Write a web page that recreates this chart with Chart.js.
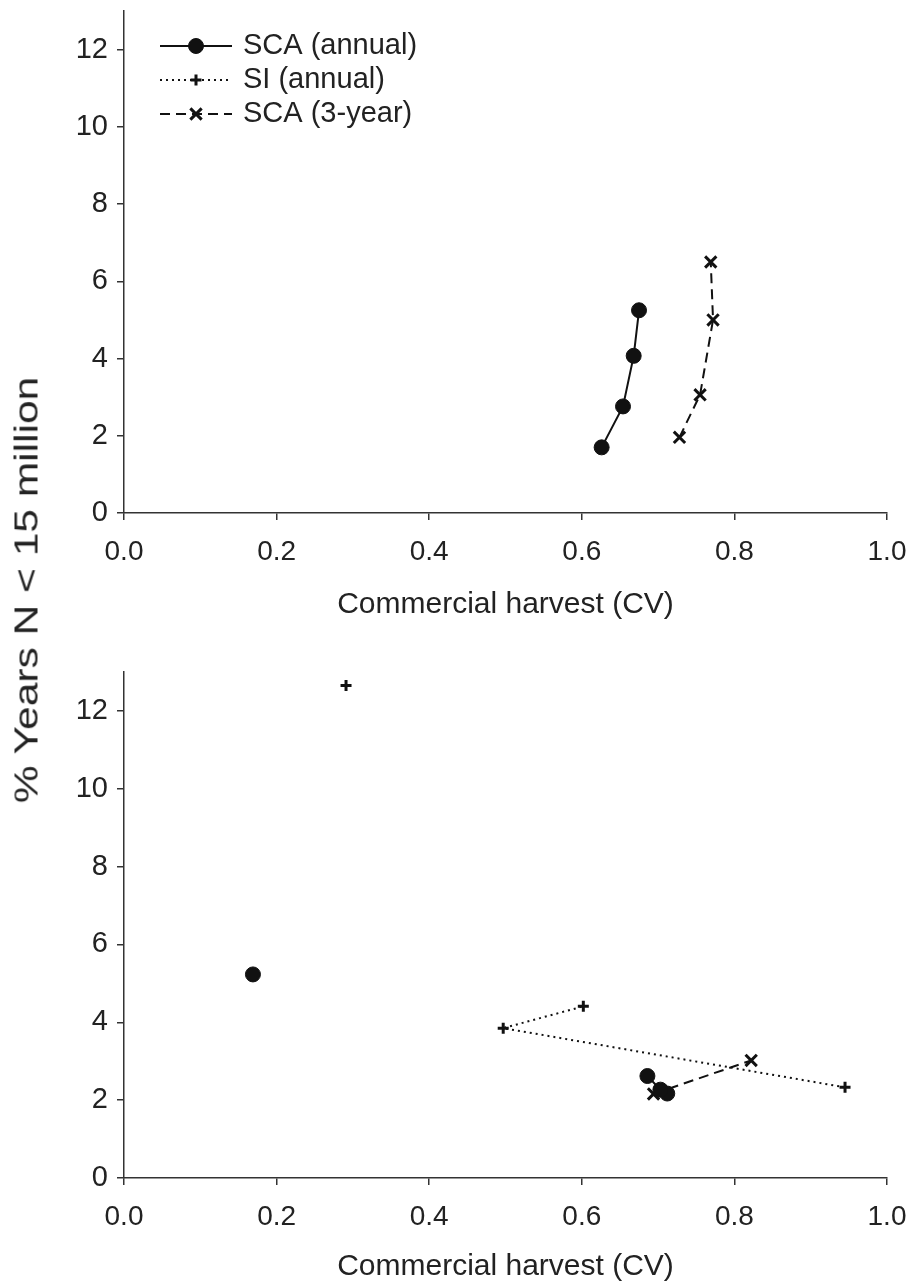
<!DOCTYPE html>
<html>
<head>
<meta charset="utf-8">
<script src="https://cdn.jsdelivr.net/npm/chart.js@4/dist/chart.umd.min.js"></script>
<style>
  html, body { margin: 0; padding: 0; background: #fff; }
  #page { position: relative; width: 915px; height: 1285px; }
  .panel { position: absolute; left: 0; width: 915px; }
  #top { top: 0; height: 640px; }
  #bottom { top: 640px; height: 645px; }
  #ytitle {
    position: absolute; left: 26px; top: 590px;
    transform: translate(-50%, -50%) rotate(-90deg) scaleX(1.25);
    font: 34px "Liberation Sans", Arial, sans-serif; color: #222; white-space: nowrap;
  }
</style>
</head>
<body>
<div id="page">
  <div class="panel" id="top"><canvas id="chTop"></canvas></div>
  <div class="panel" id="bottom"><canvas id="chBottom"></canvas></div>
  <div id="ytitle">% Years N &lt; 15 million</div>
</div>
<script>
// Commercial harvest CV vs % of years with N below 15 million.
// null entries break the line between neighbouring points.
const xTicks = [0.0, 0.2, 0.4, 0.6, 0.8, 1.0];
const yTicks = [0, 2, 4, 6, 8, 10, 12];

// upper panel
const topScaAnnualCv  = [0.626, 0.654, 0.668, 0.675];
const topScaAnnualPct = [1.70, 2.76, 4.07, 5.25];
const topSca3yrCv     = [0.728, 0.755, 0.772, 0.769];
const topSca3yrPct    = [1.96, 3.06, 5.00, 6.50];

// lower panel
const botScaAnnualCv  = [0.712, 0.703, 0.686, null, 0.169];
const botScaAnnualPct = [2.17, 2.27, 2.62, null, 5.23];
const botSiAnnualCv   = [0.945, 0.497, 0.602, null, 0.291];
const botSiAnnualPct  = [2.33, 3.85, 4.41, null, 12.65];
const botSca3yrCv     = [0.694, 0.822];
const botSca3yrPct    = [2.16, 3.02];

const seriesNames = ['SCA (annual)', 'SI (annual)', 'SCA (3-year)'];

const INK = '#111';
const AXIS = '#333';
const FONT = '"Liberation Sans", Arial, sans-serif';

Chart.defaults.font.family = FONT;
Chart.defaults.color = '#222';

const pts = (xs, ys) => xs.map((x, i) => ({ x, y: ys[i] }));

// one style per series, shared by both panels and the legend
const STYLE = {
  scaAnnual: { borderDash: [], pointStyle: 'circle', pointRadius: 7.5, pointBorderWidth: 1 },
  siAnnual:  { borderDash: [2, 4], pointStyle: 'cross', pointRadius: 5.5, pointBorderWidth: 3 },
  sca3yr:    { borderDash: [10, 6], pointStyle: 'crossRot', pointRadius: 8, pointBorderWidth: 3 },
};

function dataset(label, data, st) {
  return {
    label, data,
    borderColor: INK, backgroundColor: INK, borderWidth: 2,
    borderDash: st.borderDash,
    pointStyle: st.pointStyle, pointRadius: st.pointRadius,
    pointBorderWidth: st.pointBorderWidth,
    pointBackgroundColor: INK, pointBorderColor: INK,
    spanGaps: false, tension: 0, fill: false,
  };
}

// legend drawn as line sample + marker, like the plotting package does it
const lineLegend = {
  id: 'lineLegend',
  afterDraw(chart, args, opts) {
    if (!opts.show) return;
    const ctx = chart.ctx;
    const { x0, y0, gap, len } = opts;
    chart.data.datasets.forEach((ds, i) => {
      const y = y0 + i * gap;
      ctx.save();
      ctx.strokeStyle = ds.borderColor;
      ctx.fillStyle = ds.backgroundColor;
      ctx.lineWidth = ds.borderWidth;
      ctx.setLineDash(ds.borderDash || []);
      ctx.beginPath();
      ctx.moveTo(x0, y);
      ctx.lineTo(x0 + len, y);
      ctx.stroke();
      ctx.setLineDash([]);
      ctx.lineWidth = ds.pointBorderWidth;
      Chart.helpers.drawPoint(ctx, {
        pointStyle: ds.pointStyle, radius: ds.pointRadius, borderWidth: ds.pointBorderWidth, rotation: 0,
      }, x0 + len / 2, y);
      ctx.restore();
      ctx.save();
      ctx.fillStyle = '#222';
      ctx.font = '29px ' + FONT;
      ctx.textBaseline = 'middle';
      ctx.fillText(ds.label, x0 + len + 11, y);
      ctx.restore();
    });
  },
};

function scales(areaBottom, canvasH, titlePad) {
  return {
    x: {
      type: 'linear', min: 0, max: 1,
      afterBuildTicks: s => { s.ticks = xTicks.map(v => ({ value: v })); },
      afterFit: s => { s.height = canvasH - areaBottom; s.paddingLeft = 0; s.paddingRight = 0; },
      ticks: { font: { size: 28 }, padding: 15, maxRotation: 0, callback: v => v.toFixed(1) },
      grid: { drawOnChartArea: false, drawTicks: true, tickLength: 7, color: AXIS, lineWidth: 1.5 },
      border: { display: true, color: AXIS, width: 1.5 },
      title: { display: true, text: 'Commercial harvest (CV)', font: { size: 30 }, padding: { top: 0, bottom: titlePad } },
    },
    y: {
      type: 'linear', min: 0, max: 13,
      afterBuildTicks: s => { s.ticks = yTicks.map(v => ({ value: v })); },
      afterFit: s => { s.width = 124; s.paddingTop = 0; s.paddingBottom = 0; },
      ticks: { font: { size: 29 }, padding: 9 },
      grid: { drawOnChartArea: false, drawTicks: true, tickLength: 7, color: AXIS, lineWidth: 1.5 },
      border: { display: true, color: AXIS, width: 1.5 },
    },
  };
}

function panel(id, datasets, areaTop, areaBottom, canvasH, titlePad, legend) {
  return new Chart(document.getElementById(id), {
    type: 'line',
    data: { datasets },
    options: {
      responsive: true, maintainAspectRatio: false, animation: false,
      layout: { padding: { left: 0, top: areaTop, right: 28, bottom: 0 } },
      plugins: {
        legend: { display: false }, tooltip: { enabled: false },
        lineLegend: { show: legend, x0: 160, y0: 46, gap: 34, len: 72 },
      },
      scales: scales(areaBottom, canvasH, titlePad),
    },
    plugins: [lineLegend],
  });
}

panel('chTop', [
  dataset(seriesNames[0], pts(topScaAnnualCv, topScaAnnualPct), STYLE.scaAnnual),
  dataset(seriesNames[1], [], STYLE.siAnnual),
  dataset(seriesNames[2], pts(topSca3yrCv, topSca3yrPct), STYLE.sca3yr),
], 8, 513, 640, 17, true);

panel('chBottom', [
  dataset(seriesNames[0], pts(botScaAnnualCv, botScaAnnualPct), STYLE.scaAnnual),
  dataset(seriesNames[1], pts(botSiAnnualCv, botSiAnnualPct), STYLE.siAnnual),
  dataset(seriesNames[2], pts(botSca3yrCv, botSca3yrPct), STYLE.sca3yr),
], 32, 538, 645, 0, false);
</script>
</body>
</html>
